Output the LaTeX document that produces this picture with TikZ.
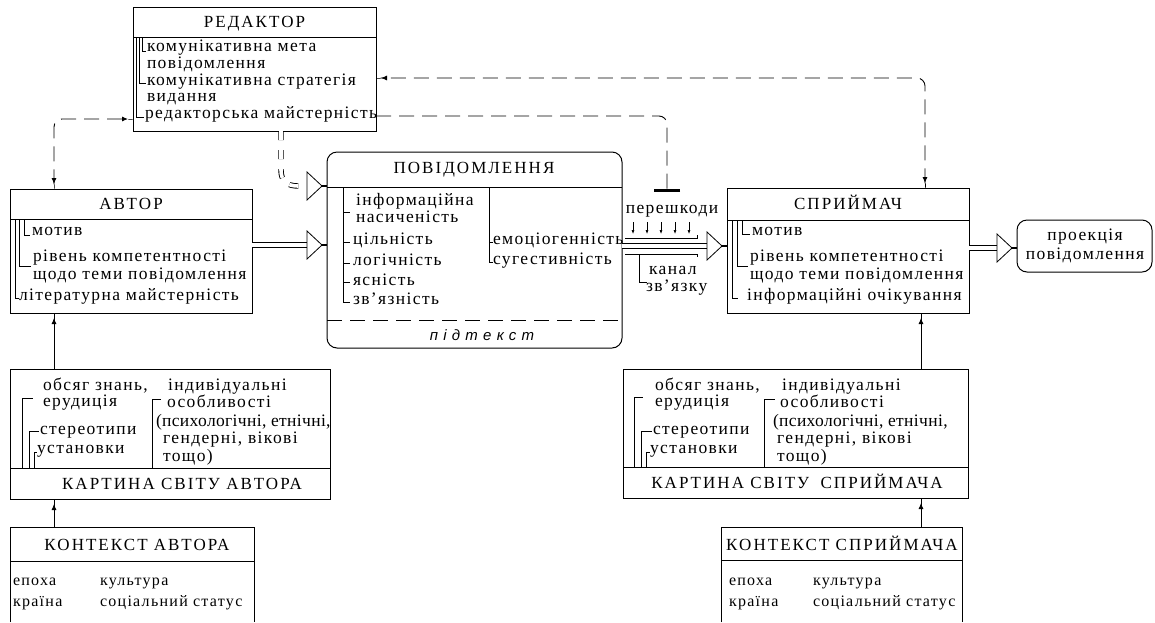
\documentclass[tikz,border=0pt]{standalone}
\usepackage{fontspec}
\setmainfont{Liberation Serif}
\newfontfamily\spfont{Liberation Serif}[LetterSpace=8]
\newfontfamily\hdfont{Liberation Serif}[LetterSpace=12]
\newfontfamily\spnarrow{Liberation Serif}[LetterSpace=2]
\newfontfamily\cxfont{Liberation Serif}[LetterSpace=8]
\newfontfamily\subfont{Liberation Sans}[LetterSpace=35]
\usetikzlibrary{arrows.meta,calc}
\tikzset{
 frame/.style={draw, line width=1pt, inner sep=0pt, outer sep=0pt, anchor=north west},
 it/.style={inner sep=0pt, outer sep=0pt, anchor=west, text height=10.5pt, text depth=3.2pt, font=\spfont\fontsize{17.5}{18}\selectfont},
 itn/.style={it, font=\spnarrow\fontsize{17.5}{18}\selectfont},
 itc/.style={it, anchor=center},
 hd/.style={inner sep=0pt, outer sep=0pt, text height=11.5pt, text depth=0pt, font=\hdfont\fontsize{17}{18}\selectfont},
 cx/.style={inner sep=0pt, outer sep=0pt, anchor=west, text height=10.5pt, text depth=3.2pt, font=\cxfont\fontsize{16}{17}\selectfont},
 ln/.style={line width=0.8pt},
 dconn/.style={line width=0.9pt, dash pattern=on 15pt off 8pt, rounded corners=8pt},
 tipb/.style={{Rectangle[length=5pt,width=0.9pt]Latex[length=6pt,width=5pt]}-{Latex[length=6pt,width=5pt]Rectangle[length=5pt,width=0.9pt]}},
 tipe/.style={-{Latex[length=6pt,width=5pt]Rectangle[length=5pt,width=0.9pt]}},
 shaft/.style={double, double distance=3.6pt, line width=0.9pt},
}
\newcommand{\hollowarr}[2]{%
 \draw[shaft] (#1) -- ($(#2)+(-20,0)$);
 \draw[ln, fill=white] ($(#2)+(-20,-14)$) -- ($(#2)+(-5,0)$) -- ($(#2)+(-20,14)$) -- cycle;
 \draw[line width=2.2pt] ($(#2)+(-5,0)$) -- (#2);
}
\begin{document}
\begin{tikzpicture}[x=1pt,y=-1pt]
\useasboundingbox (0,0) rectangle (1155,622);
\fill[white] (0,0) rectangle (1155,622);

% ---------- EDITOR ----------
\node[frame, minimum width=243pt, minimum height=124pt] (editor) at (133,7) {};
\draw[ln] (editor.north west |- 0,37) -- (editor.north east |- 0,37);
\node[hd] (edT) at (254.5,22) {РЕДАКТОР};
\node[it] (e1) at (147,48) {комунікативна мета};
\node[it] (e2) at (147,65) {повідомлення};
\node[it] (e3) at (147,82) {комунікативна стратегія};
\node[it] (e4) at (147,98) {видання};
\node[it] (e5) at (145,115) {редакторська майстерність};
\draw[ln] (142,37) |- (146,51);
\draw[ln] (139,37) |- (146,83);
\draw[ln] (136,37) |- (144,117);

% ---------- AUTHOR ----------
\node[frame, minimum width=242pt, minimum height=124pt] (author) at (10,189) {};
\draw[ln] (author.north west |- 0,219) -- (author.north east |- 0,219);
\node[hd] (auT) at (131,204) {АВТОР};
\node[it] (a1) at (32,232) {мотив};
\node[it] (a2) at (33,258) {рівень компетентності};
\node[it] (a3) at (33,276) {щодо теми повідомлення};
\node[it] (a4) at (19,297) {літературна майстерність};
\draw[ln] (24,219) |- (30,235);
\draw[ln] (19,219) |- (31,266);
\draw[ln] (15,219) |- (19,298);

% ---------- MESSAGE ----------
\node[frame, rounded corners=10pt, minimum width=295pt, minimum height=196pt] (msg) at (327,152) {};
\draw[ln] (msg.north west |- 0,187) -- (msg.north east |- 0,187);
\draw[ln, dash pattern=on 15pt off 8pt] (msg.north west |- 0,320) -- (msg.north east |- 0,320);
\node[hd] (msT) at (474,168) {ПОВІДОМЛЕННЯ};
\node[it] (m1) at (356,202) {інформаційна};
\node[it] (m2) at (356,219) {насиченість};
\node[it] (m3) at (353,241) {цільність};
\node[it] (m4) at (353,262) {логічність};
\node[it] (m5) at (353,282) {ясність};
\node[it] (m6) at (353,301) {зв’язність};
\draw[ln] (343,187) -- (343,302) -- (350,302);
\foreach \yy in {212,242,263,282} \draw[ln] (343,\yy) -- (350,\yy);
\node[it] (m7) at (493,241) {емоціогенність};
\node[it] (m8) at (493,261) {сугестивність};
\draw[ln] (489,187) -- (489,262) -- (493,262);
\draw[ln] (489,242) -- (493,242);
\node[inner sep=0pt, font=\subfont\itshape\fontsize{15}{16}\selectfont] (sub) at (482,335) {підтекст};

% ---------- PERCEIVER ----------
\node[frame, minimum width=242pt, minimum height=125pt] (perc) at (727,188) {};
\draw[ln] (perc.north west |- 0,220) -- (perc.north east |- 0,220);
\node[hd] (peT) at (848,204) {СПРИЙМАЧ};
\node[it] (p1) at (752,232) {мотив};
\node[it] (p2) at (750,258) {рівень компетентності};
\node[it] (p3) at (750,276) {щодо теми повідомлення};
\node[it] (p4) at (747,297) {інформаційні очікування};
\draw[ln] (742,220) |- (750,234);
\draw[ln] (737,220) |- (748,266);
\draw[ln] (732,220) |- (738,298);

% ---------- PROJECTION ----------
\node[frame, rounded corners=10pt, minimum width=135pt, minimum height=52pt] (proj) at (1017,220) {};
\node[itc] (pr1) at (1085,237) {проекція};
\node[itc] (pr2) at (1085,256) {повідомлення};

% ---------- NOISE / CHANNEL ----------
\coordinate (noise) at (667,192);
\node[itc] (noiselbl) at (672,210) {перешкоди};
\foreach \xx in {633,647,661,675,689}
  \draw[line width=0.6pt, -{Latex[length=4pt,width=3pt]}] (\xx,222) -- (\xx,234);
\draw[ln] (625,238) -- (697,238) -- (697,235);
\draw[ln] (625,254) -- (697,254) -- (697,257);
\draw[ln] (639,254) |- (647,282);
\node[it] (ch1) at (649,271) {канал};
\node[it] (ch2) at (646,288) {зв’язку};

% ---------- WORLD PICTURE: AUTHOR ----------
\node[frame, minimum width=320pt, minimum height=130pt] (kartA) at (10,369) {};
\draw[ln] (kartA.north west |- 0,468) -- (kartA.north east |- 0,468);
\node[hd] (kaT) at (182,484) {КАРТИНА СВІТУ АВТОРА};
\node[it] (ka1) at (43,387) {обсяг знань,};
\node[it] (ka2) at (43,403) {ерудиція};
\node[it] (ka3) at (40,431) {стереотипи};
\node[it] (ka4) at (37,450) {установки};
\draw[ln] (22,468) |- (33,398);
\draw[ln] (29,468) |- (39,431);
\draw[ln] (34,468) |- (37,452);
\node[it] (ka5) at (168,387) {індивідуальні};
\node[it] (ka6) at (167,404) {особливості};
\node[itn] (ka7) at (156,423) {(психологічні, етнічні,};
\node[it] (ka8) at (163,440) {гендерні, вікові};
\node[it] (ka9) at (163,458) {тощо)};
\draw[ln] (152,468) |- (161,399);

% ---------- WORLD PICTURE: PERCEIVER ----------
\node[frame, minimum width=345pt, minimum height=129pt] (kartP) at (623,369) {};
\draw[ln] (kartP.north west |- 0,467) -- (kartP.north east |- 0,467);
\node[hd] (kpT) at (797,483) {КАРТИНА СВІТУ\hspace{5pt} СПРИЙМАЧА};
\node[it] (kp1) at (655,387) {обсяг знань,};
\node[it] (kp2) at (655,403) {ерудиція};
\node[it] (kp3) at (653,431) {стереотипи};
\node[it] (kp4) at (650,450) {установки};
\draw[ln] (634,467) |- (643,397);
\draw[ln] (641,467) |- (652,431);
\draw[ln] (646,467) |- (650,452);
\node[it] (kp5) at (782,387) {індивідуальні};
\node[it] (kp6) at (780,404) {особливості};
\node[itn] (kp7) at (773,423) {(психологічні, етнічні,};
\node[it] (kp8) at (777,440) {гендерні, вікові};
\node[it] (kp9) at (777,458) {тощо)};
\draw[ln] (764,467) |- (775,399);

% ---------- CONTEXT: AUTHOR ----------
\node[inner sep=0pt, outer sep=0pt, anchor=north west, minimum width=244pt, minimum height=95pt] (kontA) at (10,527) {};
\draw[line width=1pt] (kontA.south west) -- (kontA.north west) -- (kontA.north east) -- (kontA.south east);
\draw[ln] (kontA.north west |- 0,561) -- (kontA.north east |- 0,561);
\node[hd] (koaT) at (137,545) {КОНТЕКСТ АВТОРА};
\node[cx] (koa1) at (13,582) {епоха};
\node[cx] (koa2) at (100,582) {культура};
\node[cx] (koa3) at (13,603) {країна};
\node[cx] (koa4) at (100,603) {соціальний статус};

% ---------- CONTEXT: PERCEIVER ----------
\node[inner sep=0pt, outer sep=0pt, anchor=north west, minimum width=241pt, minimum height=95pt] (kontP) at (721,527) {};
\draw[line width=1pt] (kontP.south west) -- (kontP.north west) -- (kontP.north east) -- (kontP.south east);
\draw[ln] (kontP.north west |- 0,560) -- (kontP.north east |- 0,560);
\node[hd] (kopT) at (842,545) {КОНТЕКСТ СПРИЙМАЧА};
\node[cx] (kop1) at (729,582) {епоха};
\node[cx] (kop2) at (813,582) {культура};
\node[cx] (kop3) at (729,603) {країна};
\node[cx] (kop4) at (813,603) {соціальний статус};

% ---------- CONNECTORS ----------
\draw[ln, tipe] (kartA.north -| 54,0) -- (author.south -| 54,0);
\draw[ln, tipe] (kontA.north -| 54,0) -- (kartA.south -| 54,0);
\draw[ln, tipe] (kartP.north -| 921,0) -- (perc.south -| 921,0);
\draw[ln, tipe] (kontP.north -| 921,0) -- (kartP.south -| 921,0);

\draw[dconn, tipb] (author.north -| 54,0) |- (editor.west |- 0,119);
\draw[dconn, tipb] (perc.north -| 925,0) |- (editor.east |- 0,78);
\draw[dconn, -{Bar[width=26pt,line width=3pt]}] (editor.east |- 0,116) -| (noise);

\draw[shaft, dash pattern=on 9pt off 10pt] (editor.south -| 281,0) -- (281,170) .. controls (281,181) and (287,186) .. (298,186) -- ($(msg.west |- 0,186)+(-20,0)$);
\draw[ln, fill=white] ($(msg.west |- 0,186)+(-20,-14)$) -- ($(msg.west |- 0,186)+(-5,0)$) -- ($(msg.west |- 0,186)+(-20,14)$) -- cycle;
\draw[line width=2.2pt] ($(msg.west |- 0,186)+(-5,0)$) -- (msg.west |- 0,186);

\hollowarr{author.east |- 0,245}{msg.west |- 0,245}
\hollowarr{msg.east |- 0,246}{perc.west |- 0,246}
\hollowarr{perc.east |- 0,248}{proj.west |- 0,248}
\end{tikzpicture}
\end{document}
